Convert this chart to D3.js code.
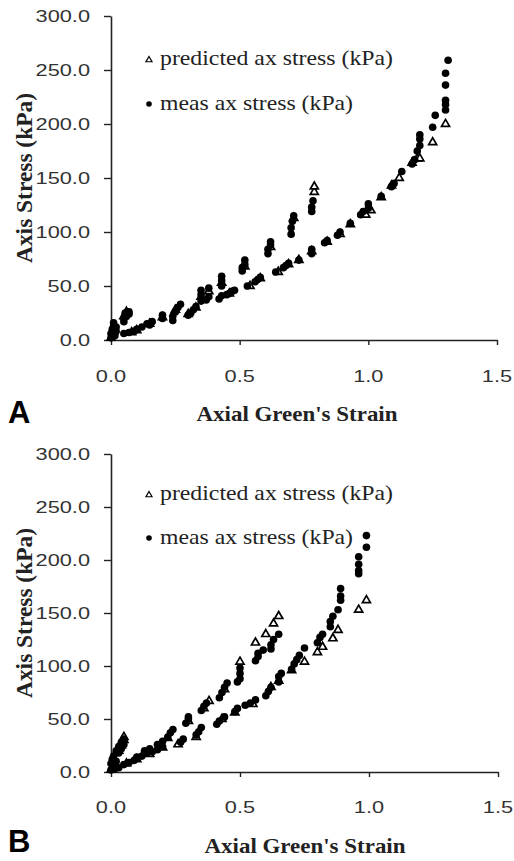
<!DOCTYPE html>
<html>
<head>
<meta charset="utf-8">
<script src="https://cdn.jsdelivr.net/npm/d3@7"></script>
<style>
  html, body { margin: 0; padding: 0; background: #fff; }
</style>
</head>
<body>
<div id="svg-container"></div>
<script>
const w = 514;
const h = 861;

// panel A
const strainA_pred = [0.0, 0.01, 0.05, 0.06, 0.08, 0.1, 0.15, 0.2, 0.25, 0.3, 0.33, 0.35, 0.38, 0.43, 0.46, 0.52, 0.54, 0.58, 0.62, 0.65, 0.69, 0.71, 0.73, 0.78, 0.79, 0.79, 0.84, 0.89, 0.93, 0.99, 1.01, 1.05, 1.09, 1.12, 1.17, 1.19, 1.2, 1.25, 1.3];
const stressA_pred = [2, 8, 22, 26, 7, 9, 15, 21, 28, 24, 30, 40, 45, 53, 43, 68, 50, 57, 86, 63, 70, 113, 74, 82, 137, 142, 91, 98, 107, 116, 120, 132, 143, 150, 164, 168, 168, 183, 200];
const strainA_meas = [0.0, 0.0, 0.005, 0.01, 0.01, 0.015, 0.02, 0.02, 0.05, 0.055, 0.06, 0.07, 0.07, 0.05, 0.05, 0.07, 0.09, 0.1, 0.12, 0.14, 0.15, 0.16, 0.2, 0.2, 0.24, 0.25, 0.26, 0.27, 0.24, 0.3, 0.31, 0.32, 0.33, 0.35, 0.35, 0.35, 0.37, 0.38, 0.38, 0.42, 0.43, 0.43, 0.43, 0.43, 0.45, 0.46, 0.47, 0.48, 0.51, 0.51, 0.52, 0.52, 0.53, 0.56, 0.57, 0.58, 0.61, 0.61, 0.62, 0.62, 0.64, 0.67, 0.68, 0.69, 0.7, 0.7, 0.705, 0.71, 0.73, 0.78, 0.78, 0.78, 0.78, 0.785, 0.83, 0.84, 0.88, 0.89, 0.93, 0.97, 0.98, 1.0, 1.0, 1.05, 1.09, 1.1, 1.13, 1.17, 1.18, 1.19, 1.2, 1.2, 1.2, 1.25, 1.26, 1.3, 1.3, 1.3, 1.3, 1.3, 1.31];
const stressA_meas = [2, 6, 10, 13, 16, 4, 8, 12, 20, 25, 22, 26, 24, 17, 6, 7, 8, 10, 12, 15, 14, 17, 20, 23, 22, 26, 30, 33, 18, 23, 25, 28, 31, 36, 42, 46, 37, 40, 48, 38, 41, 50, 55, 59, 42, 43, 45, 46, 64, 67, 70, 74, 50, 54, 56, 58, 80, 84, 88, 91, 63, 67, 69, 71, 98, 104, 110, 115, 74, 80, 84, 119, 123, 129, 90, 92, 97, 100, 108, 116, 119, 122, 126, 133, 142, 145, 156, 163, 167, 175, 180, 186, 190, 197, 208, 213, 218, 222, 236, 247, 259];

// panel B
const strainB_pred = [0.0, 0.01, 0.03, 0.04, 0.05, 0.05, 0.06, 0.1, 0.15, 0.2, 0.22, 0.26, 0.3, 0.33, 0.36, 0.38, 0.43, 0.44, 0.48, 0.5, 0.55, 0.56, 0.6, 0.62, 0.63, 0.65, 0.65, 0.7, 0.75, 0.8, 0.82, 0.86, 0.88, 0.96, 0.99];
const stressB_pred = [2, 10, 20, 25, 30, 33, 8, 12, 17, 23, 32, 26, 48, 33, 60, 67, 50, 78, 56, 104, 64, 122, 130, 80, 140, 86, 147, 96, 104, 113, 118, 126, 134, 153, 162];
const strainB_meas = [0.0, 0.0, 0.005, 0.01, 0.01, 0.02, 0.02, 0.03, 0.03, 0.04, 0.04, 0.05, 0.05, 0.015, 0.03, 0.05, 0.07, 0.09, 0.1, 0.12, 0.14, 0.16, 0.18, 0.2, 0.1, 0.13, 0.15, 0.18, 0.2, 0.22, 0.23, 0.24, 0.27, 0.28, 0.29, 0.3, 0.3, 0.33, 0.34, 0.35, 0.35, 0.36, 0.37, 0.41, 0.42, 0.42, 0.43, 0.44, 0.45, 0.44, 0.48, 0.49, 0.49, 0.5, 0.5, 0.5, 0.52, 0.54, 0.56, 0.56, 0.57, 0.57, 0.59, 0.6, 0.61, 0.62, 0.62, 0.62, 0.63, 0.65, 0.65, 0.65, 0.66, 0.7, 0.71, 0.72, 0.73, 0.75, 0.8, 0.81, 0.82, 0.85, 0.85, 0.86, 0.88, 0.89, 0.89, 0.89, 0.96, 0.96, 0.96, 0.96, 0.99, 0.99];
const stressB_meas = [2, 8, 12, 5, 15, 10, 20, 18, 24, 22, 28, 26, 31, 3, 4, 7, 9, 11, 13, 15, 18, 19, 21, 24, 14, 20, 22, 26, 29, 33, 37, 40, 28, 31, 46, 50, 52, 35, 38, 42, 58, 62, 65, 45, 48, 70, 75, 80, 84, 52, 57, 60, 85, 88, 93, 98, 63, 65, 68, 105, 109, 112, 115, 72, 76, 80, 116, 120, 125, 130, 85, 90, 93, 97, 102, 106, 110, 117, 122, 127, 130, 137, 142, 147, 153, 162, 166, 173, 187, 190, 196, 203, 212, 223];

const xTicks = [0, 0.5, 1.0, 1.5];
const yTicks = [0, 50, 100, 150, 200, 250, 300];
const seriesNames = ["predicted ax stress (kPa)", "meas ax stress (kPa)"];
const panelLetters = ["A", "B"];

const fmt = d3.format(".1f");
const triangle = d3.symbol().type(d3.symbolTriangle).size(28);

function stretchText(sel, k) {
    sel.each(function () {
        const len = this.getComputedTextLength();
        d3.select(this).attr("textLength", len * k).attr("lengthAdjust", "spacingAndGlyphs");
    });
}

function zip(xs, ys) {
    return xs.map((x, i) => ({ x: x, y: ys[i] }));
}

function drawPanel(svg, cfg) {
    const x = d3.scaleLinear().domain([0, 1.5]).range([cfg.left, cfg.right]);
    const y = d3.scaleLinear().domain([0, 300]).range([cfg.bottom, cfg.top]);
    const g = svg.append("g");

    // axes
    const xAxis = g.append("g")
        .attr("transform", "translate(0," + cfg.bottom + ")")
        .call(d3.axisBottom(x).tickValues(xTicks).tickSizeInner(5).tickSizeOuter(0).tickFormat(""));
    const yAxis = g.append("g")
        .attr("transform", "translate(" + cfg.left + ",0)")
        .call(d3.axisLeft(y).tickValues(yTicks).tickSizeInner(7).tickSizeOuter(0).tickFormat(""));
    [xAxis, yAxis].forEach(a => {
        a.select(".domain").attr("stroke", "#222").attr("stroke-width", 1.6);
        a.selectAll(".tick line").attr("stroke", "#222").attr("stroke-width", 1.4);
    });

    const tickLabels = g.append("g")
        .attr("font-family", "'Liberation Sans', Arial, sans-serif")
        .attr("font-size", "17px")
        .attr("fill", "#333");

    tickLabels.selectAll("text.yl")
        .data(yTicks)
        .enter()
        .append("text")
        .attr("class", "yl")
        .attr("x", cfg.left - 21)
        .attr("y", d => y(d) + 6)
        .attr("text-anchor", "end")
        .text(d => fmt(d))
        .call(stretchText, 1.28);

    tickLabels.selectAll("text.xl")
        .data(xTicks)
        .enter()
        .append("text")
        .attr("class", "xl")
        .attr("x", d => x(d))
        .attr("y", cfg.bottom + cfg.xLabelGap)
        .attr("text-anchor", "middle")
        .text(d => fmt(d))
        .call(stretchText, 1.28);

    // axis titles
    g.append("text")
        .attr("x", cfg.xTitleX)
        .attr("y", cfg.xTitleY)
        .attr("text-anchor", "middle")
        .attr("font-family", "'Liberation Serif', 'Times New Roman', serif")
        .attr("font-weight", "bold")
        .attr("font-size", "22px")
        .attr("fill", "#222")
        .text("Axial Green's  Strain")
        .attr("textLength", 201)
        .attr("lengthAdjust", "spacingAndGlyphs");

    g.append("text")
        .attr("transform", "translate(" + 32 + "," + cfg.yTitleY + ") rotate(-90)")
        .attr("text-anchor", "middle")
        .attr("font-family", "'Liberation Serif', 'Times New Roman', serif")
        .attr("font-weight", "bold")
        .attr("font-size", "23px")
        .attr("fill", "#222")
        .text("Axis Stress (kPa)")
        .attr("textLength", 170)
        .attr("lengthAdjust", "spacingAndGlyphs");

    g.append("text")
        .attr("x", 8)
        .attr("y", cfg.letterY)
        .attr("font-family", "'Liberation Sans', Arial, sans-serif")
        .attr("font-weight", "bold")
        .attr("font-size", "31px")
        .attr("fill", "#000")
        .text(cfg.letter);

    // predicted (open triangles) first, measured dots on top
    g.append("g").selectAll("path")
        .data(zip(cfg.predX, cfg.predY))
        .enter()
        .append("path")
        .attr("d", triangle)
        .attr("transform", d => "translate(" + x(d.x) + "," + y(d.y) + ")")
        .attr("fill", "#fff")
        .attr("stroke", "#000")
        .attr("stroke-width", 1.7);

    g.append("g").selectAll("circle")
        .data(zip(cfg.measX, cfg.measY))
        .enter()
        .append("circle")
        .attr("cx", d => x(d.x))
        .attr("cy", d => y(d.y))
        .attr("r", 3.8)
        .attr("fill", "#000");

    // legend
    const leg = g.append("g")
        .attr("font-family", "'Liberation Serif', 'Times New Roman', serif")
        .attr("font-size", "21px")
        .attr("fill", "#222");
    leg.append("path")
        .attr("d", d3.symbol().type(d3.symbolTriangle).size(16))
        .attr("transform", "translate(149," + cfg.legY1 + ")")
        .attr("fill", "#fff")
        .attr("stroke", "#000")
        .attr("stroke-width", 1.2);
    leg.append("circle")
        .attr("cx", 149)
        .attr("cy", cfg.legY2)
        .attr("r", 2.8)
        .attr("fill", "#000");
    leg.append("text")
        .attr("x", 160)
        .attr("y", cfg.legY1 + 5)
        .text(seriesNames[0])
        .attr("textLength", 233)
        .attr("lengthAdjust", "spacingAndGlyphs");
    leg.append("text")
        .attr("x", 160)
        .attr("y", cfg.legY2 + 6)
        .text(seriesNames[1])
        .attr("textLength", 193)
        .attr("lengthAdjust", "spacingAndGlyphs");
}

const svg = d3.select("#svg-container")
    .append("svg")
    .attr("width", w)
    .attr("height", h);

drawPanel(svg, {
    letter: panelLetters[0],
    left: 111, right: 497, top: 16, bottom: 340,
    xLabelGap: 42, xTitleX: 297, xTitleY: 421, yTitleY: 178, letterY: 423,
    legY1: 60, legY2: 104,
    predX: strainA_pred, predY: stressA_pred, measX: strainA_meas, measY: stressA_meas
});

drawPanel(svg, {
    letter: panelLetters[1],
    left: 111, right: 498, top: 454, bottom: 772,
    xLabelGap: 41, xTitleX: 305, xTitleY: 853, yTitleY: 613, letterY: 852,
    legY1: 495, legY2: 538,
    predX: strainB_pred, predY: stressB_pred, measX: strainB_meas, measY: stressB_meas
});
</script>
</body>
</html>
